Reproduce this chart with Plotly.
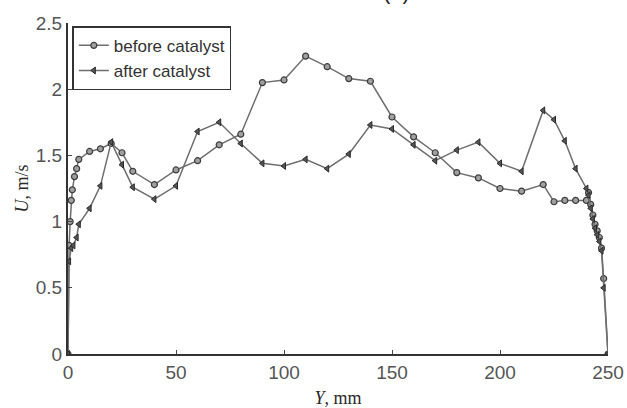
import plotly.graph_objects as go

# Before catalyst
x_before = [0, 0.5, 1.0, 1.5, 2, 3, 4, 5, 10, 15, 20, 25, 30, 40, 50, 60, 70, 80, 90, 100,
            110, 120, 130, 140, 150, 160, 170, 180, 190, 200, 210, 220, 225, 230, 235, 240,
            241, 242, 243, 244, 245, 246, 247, 248, 250]
u_before = [0, 0.82, 1.0, 1.16, 1.24, 1.34, 1.40, 1.47, 1.53, 1.55, 1.59, 1.52, 1.38, 1.28, 1.39,
            1.46, 1.58, 1.66, 2.05, 2.07, 2.25, 2.17, 2.08, 2.06, 1.79, 1.64, 1.52, 1.37, 1.33,
            1.25, 1.23, 1.28, 1.15, 1.16, 1.16, 1.16, 1.22, 1.13, 1.05, 0.98, 0.93, 0.88, 0.80,
            0.57, 0]

# After catalyst
x_after = [0, 0.5, 1.5, 2.5, 4, 5, 10, 15, 20, 25, 30, 40, 50, 60, 70, 80, 90, 100, 110, 120,
           130, 140, 150, 160, 170, 180, 190, 200, 210, 220, 225, 230, 235, 240, 241, 242, 243,
           244, 245, 246, 247, 248, 250]
u_after = [0, 0.70, 0.80, 0.82, 0.88, 0.98, 1.10, 1.27, 1.60, 1.43, 1.26, 1.17, 1.27, 1.68, 1.75,
           1.59, 1.44, 1.42, 1.47, 1.40, 1.51, 1.73, 1.70, 1.58, 1.46, 1.54, 1.60, 1.44, 1.38,
           1.84, 1.77, 1.61, 1.40, 1.25, 1.20, 1.10, 1.02, 0.95, 0.90, 0.85, 0.78, 0.50, 0]

x_ticks = [0, 50, 100, 150, 200, 250]
y_ticks = [0, 0.5, 1, 1.5, 2, 2.5]
y_ticktext = ["0", "0.5", "1", "1.5", "2", "2.5"]

fig = go.Figure()
fig.add_trace(go.Scatter(
    x=x_before, y=u_before, name="before catalyst", mode="lines+markers",
    line=dict(color="#6e6e6e", width=1.5),
    marker=dict(symbol="circle", size=6, color="#a0a0a0", line=dict(color="#3c3c3c", width=1.2)),
))
fig.add_trace(go.Scatter(
    x=x_after, y=u_after, name="after catalyst", mode="lines+markers",
    line=dict(color="#6e6e6e", width=1.5),
    marker=dict(symbol="triangle-left", size=6, color="#555555", line=dict(color="#2a2a2a", width=1)),
))

axis_font = dict(family="Liberation Sans, Arial", size=19, color="#555555")
title_font = dict(family="Liberation Serif, Times New Roman", size=18, color="#2a2a2a")
fig.update_layout(
    width=627, height=408,
    margin=dict(l=68, r=19, t=23, b=54),
    paper_bgcolor="white", plot_bgcolor="white",
    showlegend=True,
    legend=dict(x=0.008, y=0.99, xanchor="left", yanchor="top",
                bgcolor="white", bordercolor="#333333", borderwidth=1.5,
                font=dict(family="Liberation Sans, Arial", size=17, color="#333333"),
                itemwidth=30, tracegroupgap=0),
    xaxis=dict(range=[0, 250], tickvals=x_ticks, ticks="inside", ticklen=4, tickcolor="#444",
               showline=True, linecolor="#333333", linewidth=2, showgrid=False, zeroline=False,
               tickfont=axis_font, automargin=False,
               title=dict(text="<i>Y</i>, mm", font=title_font, standoff=10)),
    yaxis=dict(range=[0, 2.5], tickvals=y_ticks, ticktext=y_ticktext,
               ticks="inside", ticklen=4, tickcolor="#444",
               showline=True, linecolor="#333333", linewidth=2, showgrid=False, zeroline=False,
               tickfont=axis_font, automargin=False,
               title=dict(text="<i>U</i>, m/s", font=title_font, standoff=2)),
    annotations=[dict(text="(a)", xref="paper", yref="paper", x=0.609, y=1.051,
                      xanchor="center", yanchor="bottom", showarrow=False,
                      font=dict(family="Liberation Sans, Arial", size=22, color="#222"))],
)

fig.write_html("out.html", config={"displayModeBar": False},
               post_script="document.body.style.margin='0';document.body.style.overflow='hidden';")
